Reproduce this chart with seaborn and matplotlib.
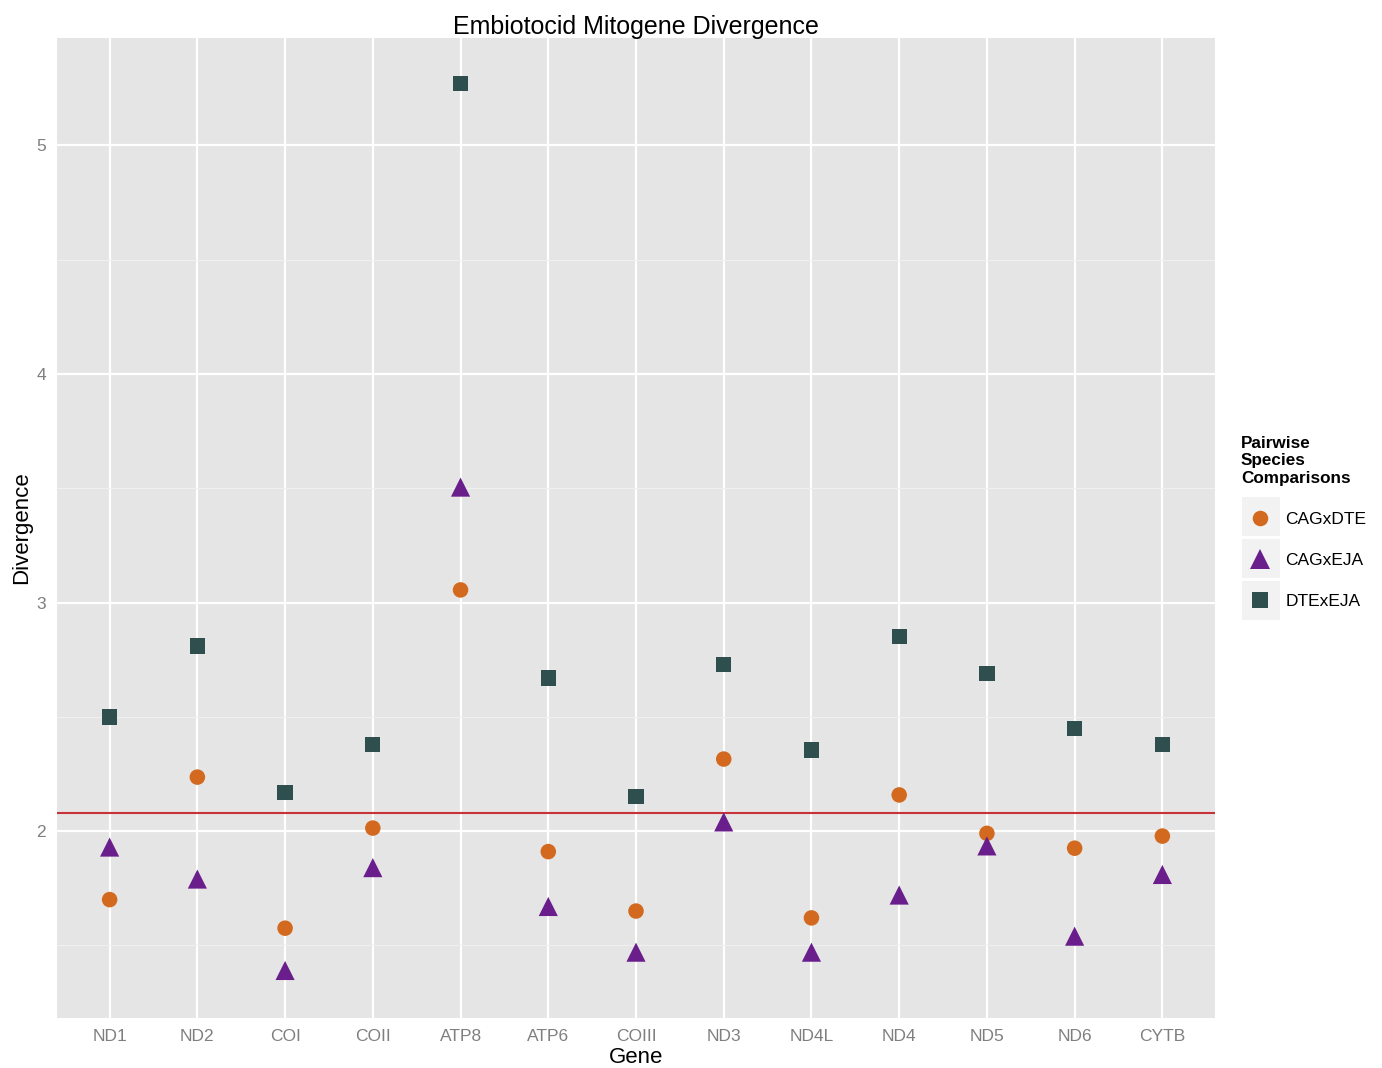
import matplotlib
matplotlib.use("Agg")
import matplotlib.pyplot as plt
import seaborn as sns
import pandas as pd
from matplotlib.patches import Rectangle
from matplotlib.lines import Line2D

genes = ["ND1", "ND2", "COI", "COII", "ATP8", "ATP6", "COIII",
         "ND3", "ND4L", "ND4", "ND5", "ND6", "CYTB"]
cag_dte = [1.70, 2.236, 1.575, 2.013, 3.055, 1.91, 1.65,
           2.315, 1.62, 2.158, 1.99, 1.925, 1.978]
cag_eja = [1.93, 1.79, 1.39, 1.84, 3.505, 1.67, 1.47,
           2.04, 1.47, 1.72, 1.935, 1.54, 1.81]
dte_eja = [2.499, 2.81, 2.17, 2.38, 5.27, 2.67, 2.15,
           2.73, 2.355, 2.85, 2.69, 2.45, 2.38]
comparisons = ["CAGxDTE", "CAGxEJA", "DTExEJA"]
ref_line = 2.079

df = pd.DataFrame({
    "Gene": genes * 3,
    "Divergence": cag_dte + cag_eja + dte_eja,
    "Comparison": [c for c in comparisons for _ in genes],
})
df["Gene"] = pd.Categorical(df["Gene"], categories=genes, ordered=True)
df["x"] = df["Gene"].cat.codes

sns.set_style("darkgrid", {"axes.facecolor": "#E5E5E5", "grid.color": "white"})
plt.rcParams["font.family"] = ["Liberation Sans", "DejaVu Sans"]
plt.rcParams["text.color"] = "black"
plt.rcParams["axes.labelcolor"] = "black"

fig = plt.figure(figsize=(13.82, 10.68), dpi=100)
ax = fig.add_axes([57 / 1382, 1 - 1018 / 1068, (1215 - 57) / 1382, (1018 - 38) / 1068])

palette = {"CAGxDTE": "#D2691E", "CAGxEJA": "#6A1E8C", "DTExEJA": "#2F4F4F"}
markers = {"CAGxDTE": "o", "CAGxEJA": "^", "DTExEJA": "s"}
sizes = {"CAGxDTE": 125, "CAGxEJA": 190, "DTExEJA": 120}

sns.scatterplot(data=df, x="x", y="Divergence", hue="Comparison", style="Comparison",
                size="Comparison", sizes=sizes, palette=palette, markers=markers,
                linewidth=0, ax=ax, zorder=3, legend=False)
ax.axhline(ref_line, color="#C8333A", lw=1.5, zorder=2)

ax.set_xlim(-0.6, len(genes) - 0.4)
ax.set_ylim(1.182, 5.47)
ax.set_xticks(range(len(genes)))
ax.set_xticklabels(genes)
ax.set_yticks([2, 3, 4, 5])
ax.set_yticks([1.5, 2.5, 3.5, 4.5], minor=True)
ax.grid(which="major", color="white", lw=1.6)
ax.grid(which="minor", color="#F0F0F0", lw=0.8)
ax.tick_params(axis="both", which="major", colors="#7F7F7F", labelsize=12.5,
               length=4, width=1.2, labelcolor="#7F7F7F", pad=4)
ax.tick_params(which="minor", length=0)
for sp in ax.spines.values():
    sp.set_visible(False)

ax.set_title("Embiotocid Mitogene Divergence", fontsize=18, pad=3, color="black")
ax.set_xlabel("Gene", fontsize=16, labelpad=2)
ax.set_ylabel("Divergence", fontsize=16, labelpad=3)

# legend key backgrounds
for top in [497, 539, 581]:
    fig.patches.append(Rectangle((1242 / 1382, 1 - (top + 39) / 1068), 38 / 1382, 39 / 1068,
                                 transform=fig.transFigure, facecolor="#F2F2F2",
                                 edgecolor="none", zorder=0))

handles = [Line2D([], [], ls="none", marker=markers[c], color=palette[c],
                  markersize=(sizes[c] ** 0.5), markeredgewidth=0)
           for c in comparisons]
leg = fig.legend(handles, comparisons, title="Pairwise\nSpecies\nComparisons",
                 loc="upper left", bbox_to_anchor=(1241 / 1382, 1 - 436 / 1068),
                 frameon=False, fontsize=12.5, labelspacing=1.5,
                 handlelength=2.15, handletextpad=0.4, borderpad=0,
                 alignment="left", borderaxespad=0, labelcolor="black")
leg.get_title().set_fontweight("bold")
leg.get_title().set_fontsize(12.3)
leg.get_title().set_linespacing(1.2)
leg.get_title().set_color("black")

fig.savefig("out.png", dpi=100)
